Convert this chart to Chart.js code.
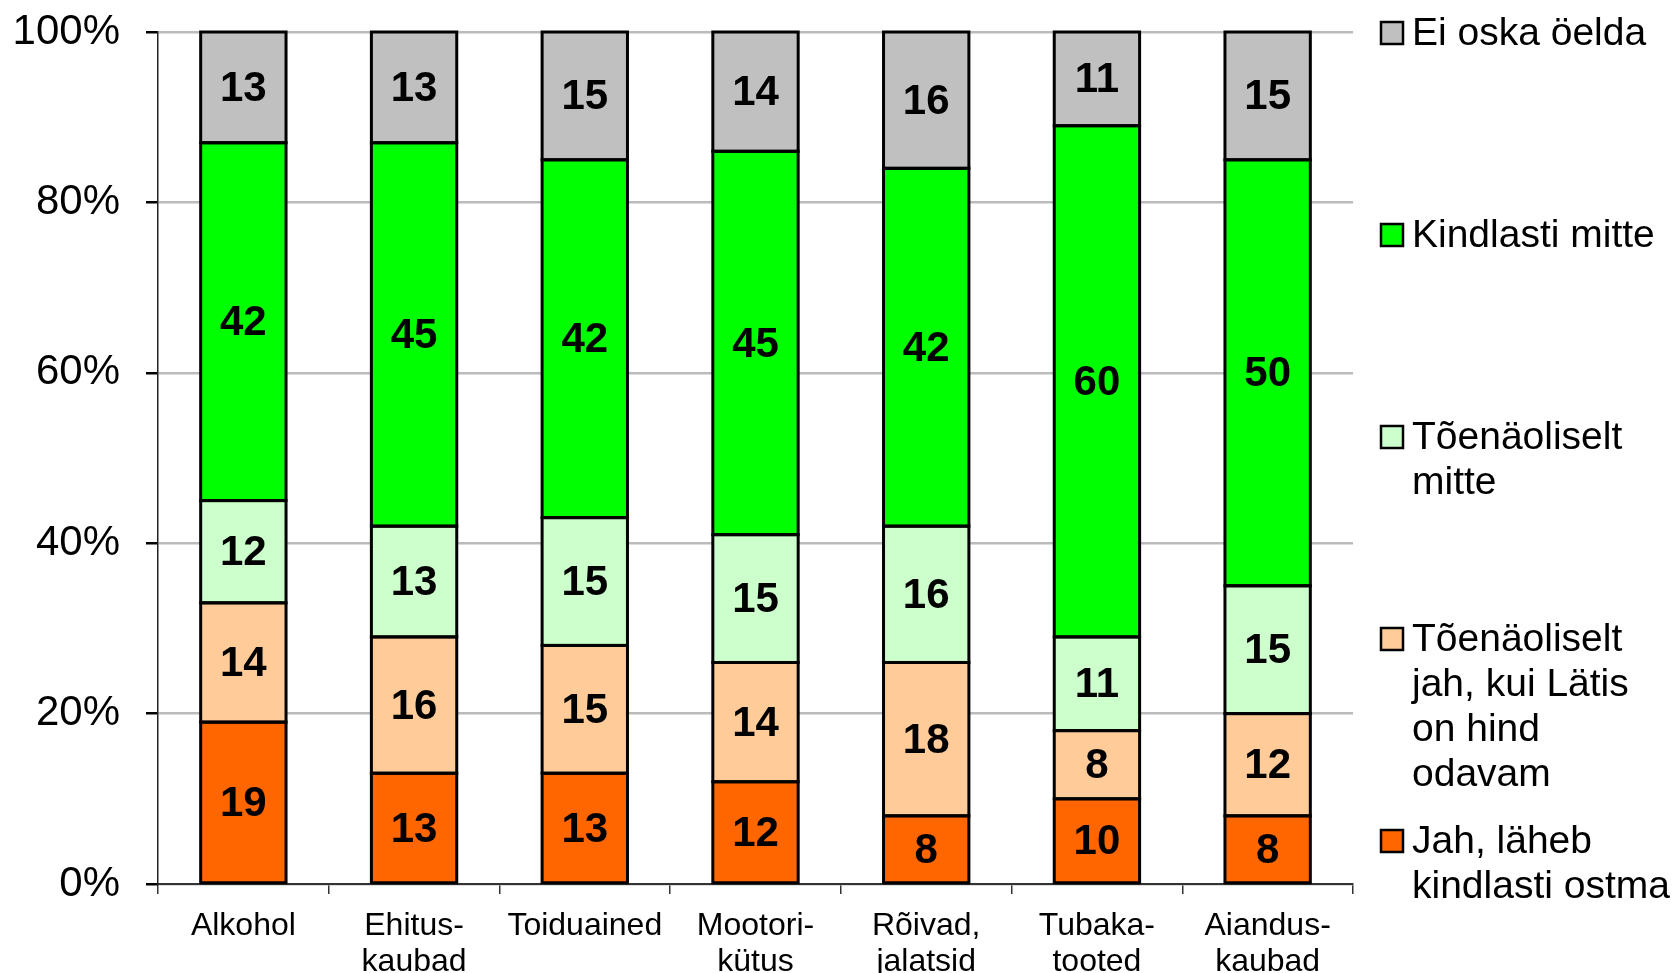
<!DOCTYPE html>
<html>
<head>
<meta charset="utf-8">
<script src="https://cdn.jsdelivr.net/npm/chart.js@4"></script>
<style>
  html, body { margin: 0; padding: 0; background: #fff; }
  #wrap { width: 1675px; height: 973px; }
</style>
</head>
<body>
<div id="wrap"><canvas id="chart" width="1675" height="973"></canvas></div>
<script>
// andmed
const categories = ['Alkohol', ['Ehitus-', 'kaubad'], 'Toiduained', ['Mootori-', 'kütus'], ['Rõivad,', 'jalatsid'], ['Tubaka-', 'tooted'], ['Aiandus-', 'kaubad']];
const jahKindlasti = [19, 13, 13, 12, 8, 10, 8];
const toenJah = [14, 16, 15, 14, 18, 8, 12];
const toenMitte = [12, 13, 15, 15, 16, 11, 15];
const kindlastiMitte = [42, 45, 42, 45, 42, 60, 50];
const eiOska = [13, 13, 15, 14, 16, 11, 15];
const yTicks = [0, 20, 40, 60, 80, 100];

const seriesNames = [
  ['Jah, läheb', 'kindlasti ostma'],
  ['Tõenäoliselt', 'jah, kui Lätis', 'on hind', 'odavam'],
  ['Tõenäoliselt', 'mitte'],
  ['Kindlasti mitte'],
  ['Ei oska öelda']
];
const seriesColors = ['#FF6600', '#FFCC99', '#CCFFCC', '#00FF00', '#C0C0C0'];
const seriesData = [jahKindlasti, toenJah, toenMitte, kindlastiMitte, eiOska];

const FONT = '"Liberation Sans", Arial, sans-serif';

// mustad ääred + numbrid tulpade sisse
const valueLabels = {
  id: 'valueLabels',
  afterDatasetsDraw(chart) {
    const ctx = chart.ctx;
    ctx.save();
    ctx.lineWidth = 3;
    ctx.strokeStyle = '#000';
    chart.data.datasets.forEach((ds, i) => {
      chart.getDatasetMeta(i).data.forEach(bar => {
        const p = bar.getProps(['x', 'y', 'base', 'width']);
        ctx.strokeRect(p.x - p.width / 2, Math.min(p.y, p.base), p.width, Math.abs(p.base - p.y));
      });
    });
    ctx.font = 'bold 42px ' + FONT;
    ctx.fillStyle = '#000';
    ctx.textAlign = 'center';
    ctx.textBaseline = 'middle';
    chart.data.datasets.forEach((ds, i) => {
      chart.getDatasetMeta(i).data.forEach((bar, j) => {
        ctx.fillText(ds.data[j], bar.x, (bar.y + bar.base) / 2 + 2);
      });
    });
    ctx.restore();
  }
};

// legend paremal, mitmerealine
const sideLegend = {
  id: 'sideLegend',
  afterDraw(chart) {
    const ctx = chart.ctx;
    const x0 = 1381, box = 22, textX = 1412;
    const firstY = 33, step = 202, lineH = 45;
    ctx.save();
    ctx.font = '39px ' + FONT;
    ctx.textBaseline = 'middle';
    ctx.textAlign = 'left';
    const n = chart.data.datasets.length;
    for (let k = 0; k < n; k++) {
      const ds = chart.data.datasets[n - 1 - k];
      const y = firstY + k * step;
      ctx.fillStyle = ds.backgroundColor;
      ctx.fillRect(x0, y - box / 2, box, box);
      ctx.lineWidth = 2.5;
      ctx.strokeStyle = '#000';
      ctx.strokeRect(x0, y - box / 2, box, box);
      ctx.fillStyle = '#000';
      ds.label.forEach((line, li) => ctx.fillText(line, textX, y + li * lineH + 1));
    }
    ctx.restore();
  }
};

new Chart(document.getElementById('chart'), {
  type: 'bar',
  data: {
    labels: categories,
    datasets: seriesData.map((d, i) => ({
      label: seriesNames[i],
      data: d,
      backgroundColor: seriesColors[i],
      borderWidth: 0,
      barPercentage: 0.5,
      categoryPercentage: 1.0
    }))
  },
  options: {
    responsive: false,
    animation: false,
    layout: { padding: { top: 32, right: 322, bottom: 0, left: 0 } },
    plugins: {
      legend: { display: false },
      tooltip: { enabled: false }
    },
    scales: {
      x: {
        stacked: true,
        afterFit: s => { s.height = 89; s.paddingLeft = 0; s.paddingRight = 0; },
        grid: {
          offset: true,
          drawOnChartArea: false,
          tickLength: 10,
          color: '#333',
          lineWidth: 1.5
        },
        border: { color: '#333', width: 2 },
        ticks: {
          color: '#000',
          font: { family: FONT, size: 32, lineHeight: 1.13 },
          padding: 14,
          maxRotation: 0,
          autoSkip: false
        }
      },
      y: {
        stacked: true,
        min: 0,
        max: 100,
        afterFit: s => { s.width = 158; s.paddingTop = 0; s.paddingBottom = 0; },
        afterBuildTicks: s => { s.ticks = yTicks.map(v => ({ value: v })); },
        grid: {
          color: '#BBBBBB',
          lineWidth: 2.5,
          tickColor: '#000',
          tickLength: 12
        },
        border: { color: '#222', width: 1.5 },
        ticks: {
          color: '#000',
          font: { family: FONT, size: 42 },
          padding: 26,
          callback: v => v + '%'
        }
      }
    }
  },
  plugins: [valueLabels, sideLegend]
});
</script>
</body>
</html>
